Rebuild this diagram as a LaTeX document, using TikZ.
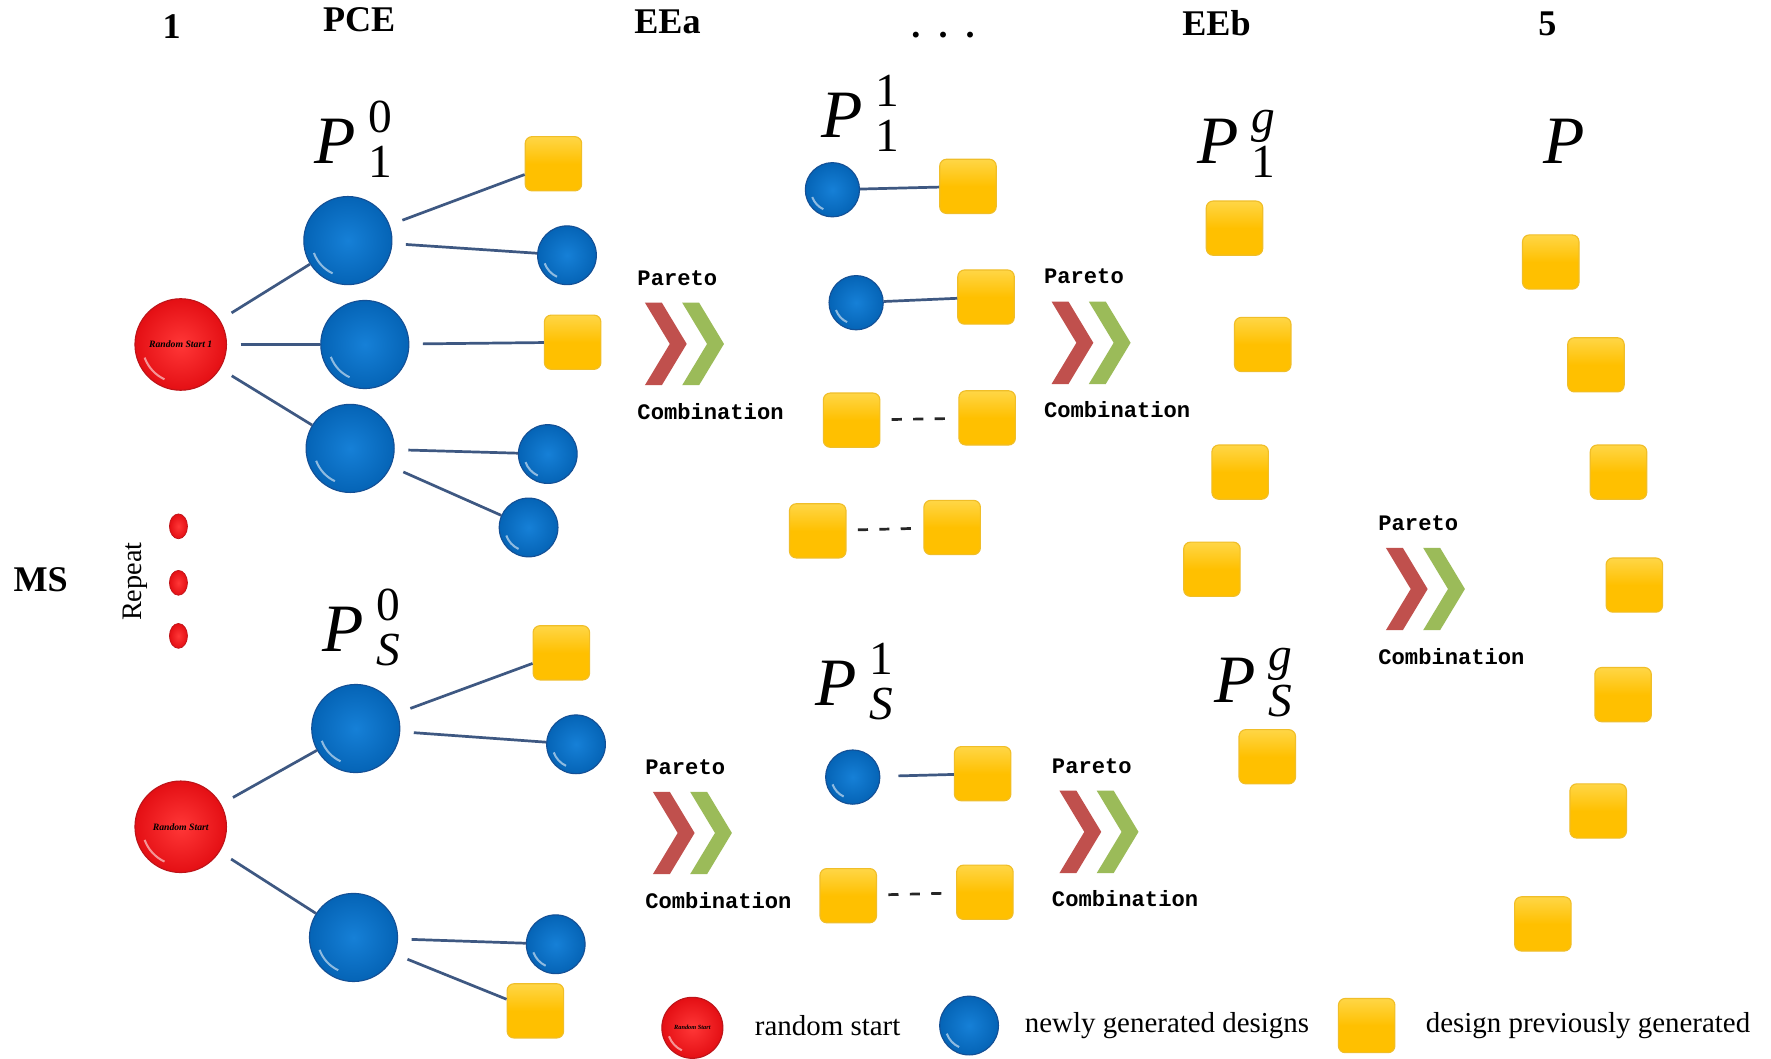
\documentclass[tikz,border=0pt]{standalone}
\usepackage{fontspec}
\setmainfont{Liberation Serif}
\newfontfamily\monof{Liberation Mono}
\usetikzlibrary{shapes.geometric}

\definecolor{bluein}{RGB}{22,128,215}
\definecolor{blueout}{RGB}{5,100,182}
\definecolor{bluerim}{RGB}{20,80,150}
\definecolor{redin}{RGB}{255,55,55}
\definecolor{redout}{RGB}{228,15,20}
\definecolor{redrim}{RGB}{190,20,25}
\definecolor{yel}{RGB}{255,192,0}
\definecolor{yeltop}{RGB}{255,214,70}
\definecolor{yelrim}{RGB}{240,190,40}
\definecolor{linec}{RGB}{62,88,130}
\definecolor{chevred}{RGB}{192,80,77}
\definecolor{chevgreen}{RGB}{155,187,89}

\newcommand{\Pvar}[2]{\textit{P}\kern5.5pt\rlap{\raisebox{14pt}{\fontsize{21}{21}\selectfont #1}}\raisebox{-6pt}{\fontsize{21}{21}\selectfont #2}}

\tikzset{
  gloss/.style={path picture={\draw[white,opacity=.55,line width=0.9pt]
      (path picture bounding box.center) ++(200:#1) arc[start angle=200,end angle=245,radius=#1];}},
  bigblue/.style={circle, minimum size=39pt, inner sep=0pt, inner color=bluein, outer color=blueout, draw=bluerim, line width=0.5pt, gloss=16pt},
  smallblue/.style={circle, minimum size=26pt, inner sep=0pt, inner color=bluein, outer color=blueout, draw=bluerim, line width=0.5pt, gloss=10.5pt},
  midblue/.style={circle, minimum size=24pt, inner sep=0pt, inner color=bluein, outer color=blueout, draw=bluerim, line width=0.5pt, gloss=9.5pt},
  redball/.style={circle, minimum size=40.5pt, inner sep=0pt, inner color=redin, outer color=redout, draw=redrim, line width=0.5pt, gloss=17pt,
      font=\fontsize{4.3}{5}\selectfont\bfseries\itshape, text=black},
  reddot/.style={ellipse, minimum width=8pt, minimum height=11pt, inner sep=0pt, inner color=redin, outer color=redout, draw=redrim, line width=0.3pt},
  yelsq/.style={rectangle, rounded corners=3pt, minimum width=25pt, minimum height=24pt, inner sep=0pt,
      top color=yeltop, bottom color=yel, middle color=yel, draw=yelrim, line width=0.5pt},
  conn/.style={draw=linec, line width=1.2pt},
  tconn/.style={conn, shorten <=6pt},
  dconn/.style={draw=black!85, line width=1.2pt, dash pattern=on 4.5pt off 5pt, shorten <=5pt, shorten >=5pt},
  hdr/.style={font=\fontsize{16}{18}\selectfont\bfseries, inner sep=0pt, anchor=base},
  plab/.style={font=\fontsize{30}{30}\selectfont, inner sep=0pt, anchor=base west},
  mono/.style={font=\monof\bfseries\fontsize{9.8}{11}\selectfont, inner sep=0pt, anchor=west},
  leg/.style={font=\fontsize{12.8}{15}\selectfont, inner sep=0pt, anchor=west},
}

\newcommand{\chevgroup}[3]{%
  \begin{scope}[shift={(#1,#2)}]
    \fill[chevred] (0,0) -- (15,0) -- (37,36.5) -- (15,73) -- (0,73) -- (22,36.5) -- cycle;
    \fill[chevgreen] (33,0) -- (48,0) -- (70,36.5) -- (48,73) -- (33,73) -- (55,36.5) -- cycle;
    \node[mono] (par#3) at (-7,-22) {Pareto};
    \node[mono] (comb#3) at (-7,96) {Combination};
  \end{scope}}

\begin{document}
\begin{tikzpicture}[x=0.5pt,y=-0.5pt]
\useasboundingbox[fill=white] (0,0) rectangle (1568,937);

% headers
\node[hdr] (h1) at (152,34) {1};
\node[hdr] (h2) at (318,28) {PCE};
\node[hdr] (h3) at (591,30) {EEa};
\node[hdr] (h4) at (835,33) {.\hspace{8pt}.\hspace{8pt}.};
\node[hdr] (h5) at (1077,31) {EEb};
\node[hdr] (h6) at (1370,31) {5};

\node[font=\fontsize{16}{18}\selectfont\bfseries, inner sep=0pt] (ms) at (36,513) {MS};
\node[rotate=90, font=\fontsize{12.5}{15}\selectfont, inner sep=0pt] (rep) at (120,515) {Repeat};
\node[reddot] (d1) at (158,466) {};
\node[reddot] (d2) at (158,516) {};
\node[reddot] (d3) at (158,563) {};

% population labels
\node[plab] (p10) at (278,145) {\Pvar{0}{1}};
\node[plab] (pS0) at (285,577) {\Pvar{0}{\textit{S}}};
\node[plab] (p11) at (727,122) {\Pvar{1}{1}};
\node[plab] (pS1) at (722,625) {\Pvar{1}{\textit{S}}};
\node[plab] (p1g) at (1060,145) {\Pvar{\textit{g}}{1}};
\node[plab] (pSg) at (1075,622) {\Pvar{\textit{g}}{\textit{S}}};
\node[plab] (pfin) at (1366,145) {\textit{P}};

% top tree
\node[redball] (r1) at (160,305) {Random Start 1};
\node[bigblue] (b1) at (308,213) {};
\node[bigblue] (b2) at (323,305) {};
\node[bigblue] (b3) at (310,397) {};
\node[yelsq] (y1) at (490,145) {};
\node[smallblue] (s1) at (502,226) {};
\node[yelsq] (y2) at (507,303) {};
\node[smallblue] (s2) at (485,402) {};
\node[smallblue] (s3) at (468,467) {};
\draw[tconn] (r1) -- (b1);
\draw[tconn] (r1) -- (b2);
\draw[tconn] (r1) -- (b3);
\draw[tconn] (b1) -- (y1);
\draw[tconn] (b1) -- (s1);
\draw[tconn] (b2) -- (y2);
\draw[tconn] (b3) -- (s2);
\draw[tconn] (b3) -- (s3);

% bottom tree
\node[redball] (r2) at (160,732) {Random Start};
\node[bigblue] (b4) at (315,645) {};
\node[bigblue] (b5) at (313,830) {};
\node[yelsq] (y3) at (497,578) {};
\node[smallblue] (s4) at (510,659) {};
\node[smallblue] (s5) at (492,836) {};
\node[yelsq] (y4) at (474,895) {};
\draw[tconn] (r2) -- (b4);
\draw[tconn] (r2) -- (b5);
\draw[tconn] (b4) -- (y3);
\draw[tconn] (b4) -- (s4);
\draw[tconn] (b5) -- (s5);
\draw[tconn] (b5) -- (y4);

% chevrons
\chevgroup{571}{268}{A}
\chevgroup{931}{267}{B}
\chevgroup{578}{701}{C}
\chevgroup{938}{700}{D}
\chevgroup{1227}{485}{E}

% EEa column
\node[midblue] (e1) at (737,168) {};
\node[yelsq] (ey1) at (857,165) {};
\node[midblue] (e2) at (758,268) {};
\node[yelsq] (ey2) at (873,263) {};
\node[yelsq] (ey3) at (754,372) {};
\node[yelsq] (ey4) at (874,370) {};
\node[yelsq] (ey5) at (724,470) {};
\node[yelsq] (ey6) at (843,467) {};
\node[midblue] (e3) at (755,688) {};
\node[yelsq] (ey7) at (870,685) {};
\node[yelsq] (ey8) at (751,793) {};
\node[yelsq] (ey9) at (872,790) {};
\draw[conn] (e1) -- (ey1);
\draw[conn] (e2) -- (ey2);
\draw[dconn] (ey3) -- (ey4);
\draw[dconn] (ey5) -- (ey6);
\draw[conn, shorten <=8pt] (e3) -- (ey7);
\draw[dconn] (ey8) -- (ey9);

% EEb column
\node[yelsq] (g1) at (1093,202) {};
\node[yelsq] (g2) at (1118,305) {};
\node[yelsq] (g3) at (1098,418) {};
\node[yelsq] (g4) at (1073,504) {};
\node[yelsq] (g5) at (1122,670) {};

% final column
\node[yelsq] (f1) at (1373,232) {};
\node[yelsq] (f2) at (1413,323) {};
\node[yelsq] (f3) at (1433,418) {};
\node[yelsq] (f4) at (1447,518) {};
\node[yelsq] (f5) at (1437,615) {};
\node[yelsq] (f6) at (1415,718) {};
\node[yelsq] (f7) at (1366,818) {};

% legend
\node[redball, minimum size=27pt, gloss=11pt, font=\fontsize{2.8}{3}\selectfont\bfseries\itshape] (lr) at (613,910) {Random Start};
\node[leg] (lrt) at (668,908) {random start};
\node[smallblue, minimum size=26pt] (lb) at (858,908) {};
\node[leg] (lbt) at (907,908) {newly generated designs};
\node[yelsq] (ly) at (1210,908) {};
\node[leg] (lyt) at (1262,908) {design previously generated};
\end{tikzpicture}
\end{document}
